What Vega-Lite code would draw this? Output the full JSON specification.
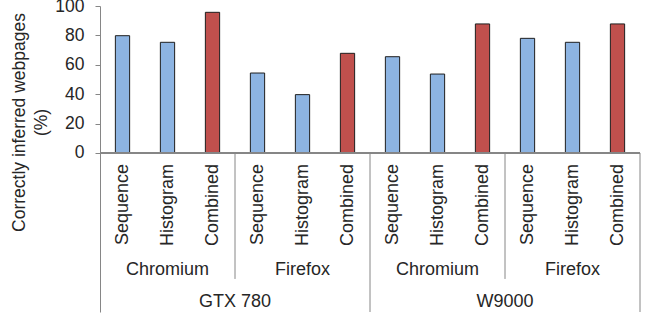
{
  "$schema": "https://vega.github.io/schema/vega-lite/v6.json",
  "autosize": {"type": "none"},
  "padding": {"left": 100, "top": 6, "right": 5, "bottom": 5},
  "width": 540,
  "height": 306,
  "config": {
    "view": {"stroke": null},
    "font": "Liberation Sans",
    "text": {"font": "Liberation Sans", "fontSize": 18, "color": "#262626"}
  },
  "datasets": {
    "bars": [
      {"gpu": "GTX 780", "browser": "Chromium", "method": "Sequence", "key": "GTX 780|Chromium|Sequence", "value": 79.8},
      {"gpu": "GTX 780", "browser": "Chromium", "method": "Histogram", "key": "GTX 780|Chromium|Histogram", "value": 75.3},
      {"gpu": "GTX 780", "browser": "Chromium", "method": "Combined", "key": "GTX 780|Chromium|Combined", "value": 95.7},
      {"gpu": "GTX 780", "browser": "Firefox", "method": "Sequence", "key": "GTX 780|Firefox|Sequence", "value": 54.4},
      {"gpu": "GTX 780", "browser": "Firefox", "method": "Histogram", "key": "GTX 780|Firefox|Histogram", "value": 39.7},
      {"gpu": "GTX 780", "browser": "Firefox", "method": "Combined", "key": "GTX 780|Firefox|Combined", "value": 67.8},
      {"gpu": "W9000", "browser": "Chromium", "method": "Sequence", "key": "W9000|Chromium|Sequence", "value": 65.5},
      {"gpu": "W9000", "browser": "Chromium", "method": "Histogram", "key": "W9000|Chromium|Histogram", "value": 53.7},
      {"gpu": "W9000", "browser": "Chromium", "method": "Combined", "key": "W9000|Chromium|Combined", "value": 87.8},
      {"gpu": "W9000", "browser": "Firefox", "method": "Sequence", "key": "W9000|Firefox|Sequence", "value": 78.0},
      {"gpu": "W9000", "browser": "Firefox", "method": "Histogram", "key": "W9000|Firefox|Histogram", "value": 75.3},
      {"gpu": "W9000", "browser": "Firefox", "method": "Combined", "key": "W9000|Firefox|Combined", "value": 87.8}
    ],
    "browsers": [
      {"browser": "Chromium", "key": "GTX 780|Chromium|Histogram"},
      {"browser": "Firefox", "key": "GTX 780|Firefox|Histogram"},
      {"browser": "Chromium", "key": "W9000|Chromium|Histogram"},
      {"browser": "Firefox", "key": "W9000|Firefox|Histogram"}
    ],
    "gpus": [
      {"gpu": "GTX 780", "key": "GTX 780|Firefox|Sequence"},
      {"gpu": "W9000", "key": "W9000|Firefox|Sequence"}
    ],
    "sepBrowser": [
      {"key": "GTX 780|Firefox|Sequence"},
      {"key": "W9000|Firefox|Sequence"}
    ],
    "sepGpuLeft": [
      {"key": "W9000|Chromium|Sequence"}
    ],
    "sepGpuRight": [
      {"key": "W9000|Firefox|Combined"}
    ]
  },
  "layer": [
    {
      "data": {"name": "bars"},
      "mark": {"type": "bar", "width": {"band": 0.317}, "stroke": "#1e1e1e", "strokeWidth": 1},
      "encoding": {
        "x": {
          "field": "key", "type": "nominal",
          "scale": {
            "domain": [
              "GTX 780|Chromium|Sequence", "GTX 780|Chromium|Histogram", "GTX 780|Chromium|Combined",
              "GTX 780|Firefox|Sequence", "GTX 780|Firefox|Histogram", "GTX 780|Firefox|Combined",
              "W9000|Chromium|Sequence", "W9000|Chromium|Histogram", "W9000|Chromium|Combined",
              "W9000|Firefox|Sequence", "W9000|Firefox|Histogram", "W9000|Firefox|Combined"
            ],
            "paddingInner": 0, "paddingOuter": 0
          },
          "axis": null
        },
        "y": {
          "field": "value", "type": "quantitative",
          "scale": {"domain": [-108.2, 100], "nice": false, "zero": false},
          "axis": {
            "values": [0, 20, 40, 60, 80, 100],
            "grid": false,
            "domainColor": "#868686",
            "tickColor": "#868686",
            "tickSize": 5,
            "labelFont": "Liberation Sans",
            "labelFontSize": 17.5,
            "labelColor": "#262626",
            "labelPadding": 11,
            "title": ["Correctly inferred webpages", "(%)"],
            "titleFont": "Liberation Sans",
            "titleFontSize": 17.5,
            "titleFontWeight": "normal",
            "titleColor": "#262626",
            "titleAngle": 270,
            "titleAlign": "center",
            "titleBaseline": "alphabetic",
            "titleLineHeight": 22,
            "titleX": -75.5,
            "titleY": 116
          }
        },
        "color": {
          "field": "method", "type": "nominal",
          "scale": {"domain": ["Sequence", "Histogram", "Combined"], "range": ["#8db4e2", "#8db4e2", "#c0504d"]},
          "legend": null
        }
      }
    },
    {
      "data": {"name": "bars"},
      "mark": {"type": "rule", "color": "#868686", "strokeWidth": 1},
      "encoding": {"y": {"datum": 0}}
    },
    {
      "data": {"name": "bars"},
      "mark": {"type": "text", "angle": 270, "align": "right", "baseline": "middle"},
      "encoding": {
        "x": {"field": "key", "type": "nominal"},
        "y": {"datum": -7.5},
        "text": {"field": "method"}
      }
    },
    {
      "data": {"name": "browsers"},
      "mark": {"type": "text", "align": "center", "baseline": "alphabetic"},
      "encoding": {
        "x": {"field": "key", "type": "nominal"},
        "y": {"datum": -83.0},
        "text": {"field": "browser"}
      }
    },
    {
      "data": {"name": "gpus"},
      "mark": {"type": "text", "align": "center", "baseline": "alphabetic"},
      "encoding": {
        "x": {"field": "key", "type": "nominal", "bandPosition": 0},
        "y": {"datum": -104.6},
        "text": {"field": "gpu"}
      }
    },
    {
      "data": {"name": "sepBrowser"},
      "mark": {"type": "rule", "color": "#868686", "strokeWidth": 1},
      "encoding": {
        "x": {"field": "key", "type": "nominal", "bandPosition": 0},
        "y": {"datum": 0},
        "y2": {"datum": -85.7}
      }
    },
    {
      "data": {"name": "sepGpuLeft"},
      "mark": {"type": "rule", "color": "#868686", "strokeWidth": 1},
      "encoding": {
        "x": {"field": "key", "type": "nominal", "bandPosition": 0},
        "y": {"datum": 0},
        "y2": {"datum": -108.2}
      }
    },
    {
      "data": {"name": "sepGpuRight"},
      "mark": {"type": "rule", "color": "#868686", "strokeWidth": 1},
      "encoding": {
        "x": {"field": "key", "type": "nominal", "bandPosition": 1},
        "y": {"datum": 0},
        "y2": {"datum": -108.2}
      }
    }
  ]
}
